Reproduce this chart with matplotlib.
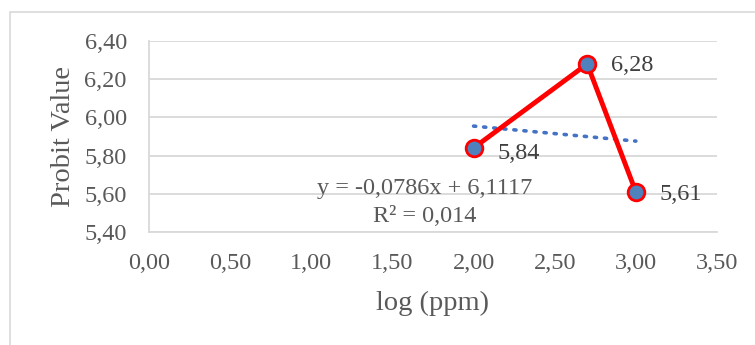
import matplotlib.pyplot as plt
from matplotlib.patches import Rectangle

# data
x_log = [2.00, 2.70, 3.00]
probit = [5.84, 6.28, 5.61]
point_labels = ["5,84", "6,28", "5,61"]
slope = -0.0786
intercept = 6.1117
r2_text = "R² = 0,014"
eq_text = "y = -0,0786x + 6,1117"
x_ticks = [0.0, 0.5, 1.0, 1.5, 2.0, 2.5, 3.0, 3.5]
y_ticks = [5.4, 5.6, 5.8, 6.0, 6.2, 6.4]

TXT = "#595959"
GRID = "#D9D9D9"

plt.rcParams["font.family"] = ["Liberation Serif", "DejaVu Serif"]

W, H = 755, 345
fig = plt.figure(figsize=(W / 100, H / 100), dpi=100)
fig.patches.append(Rectangle((10 / W, -0.1), 1.2, 1 - 12 / H + 0.1,
                             transform=fig.transFigure, fill=False,
                             edgecolor=GRID, linewidth=1.2))

ax = fig.add_axes([149 / W, 1 - 232 / H, (717 - 149) / W, (232 - 41) / H])
ax.set_xlim(0, 3.5)
ax.set_ylim(5.4, 6.4)

ax.set_xticks(x_ticks)
ax.set_xticklabels([f"{v:.2f}".replace(".", ",") for v in x_ticks])
ax.set_yticks(y_ticks)
ax.set_yticklabels([f"{v:.2f}".replace(".", ",") for v in y_ticks])
ax.tick_params(length=0, labelsize=17.5, colors=TXT)
ax.tick_params(axis="x", pad=15)
ax.tick_params(axis="y", pad=16)

ax.grid(axis="y", color=GRID, linewidth=1.3)
ax.set_axisbelow(True)
for s in ["top", "right"]:
    ax.spines[s].set_visible(False)
ax.spines["left"].set_color(GRID)
ax.spines["bottom"].set_color(GRID)
ax.spines["left"].set_linewidth(1.3)
ax.spines["bottom"].set_linewidth(1.3)

# trendline
tx = [min(x_log), max(x_log)]
ax.plot(tx, [slope * v + intercept for v in tx], linestyle=(0, (0.6, 2.2)),
        color="#4472C4", linewidth=2.6, dash_capstyle="round", zorder=2)

ax.plot(x_log, probit, color="#FF0000", linewidth=3.5, marker="o",
        markersize=12, markerfacecolor="#4F81BD", markeredgecolor="#FF0000",
        markeredgewidth=2, zorder=3)

offsets = [(17, -4), (17, -1), (17, -2)]
for xv, yv, lab, off in zip(x_log, probit, point_labels, offsets):
    ax.annotate(lab, (xv, yv), xytext=off,
                textcoords="offset points", fontsize=17.5, color="#404040",
                va="center", ha="left")

ax.text(1.70, 5.63, eq_text, fontsize=17.5, color=TXT, ha="center", va="center")
ax.text(1.70, 5.48, r2_text, fontsize=17.5, color=TXT, ha="center", va="center")

ax.set_xlabel("log (ppm)", fontsize=20.5, color=TXT, labelpad=12)
ax.set_ylabel("Probit Value", fontsize=20.5, color=TXT, labelpad=6)

fig.savefig("out.png", dpi=100)
